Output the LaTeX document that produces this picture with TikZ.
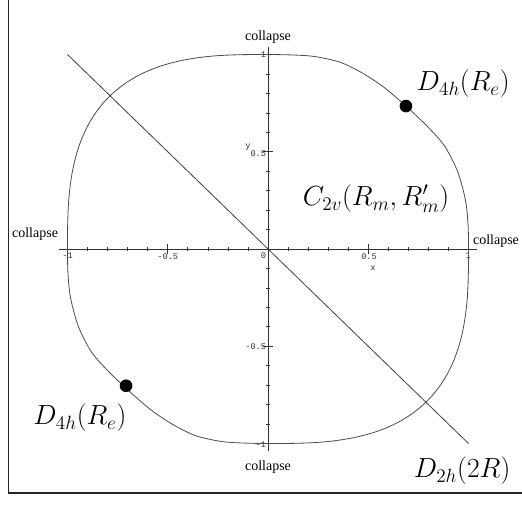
\documentclass[tikz,border=0pt]{standalone}
\usepackage{fontspec}
\setmainfont{Liberation Serif}
\setmonofont{Liberation Mono}

\tikzset{
  clps/.style={font=\fontsize{10.5}{12}\selectfont, inner sep=0pt},
  sym/.style={font=\fontsize{20}{24}\selectfont, inner sep=0pt},
  ticklbl/.style={font=\ttfamily\fontsize{6.5}{7}\selectfont, text=black!80, inner sep=0pt},
  dot/.style={circle, fill=black, inner sep=0pt, minimum size=9.5pt},
  curve/.style={black!70, line width=0.6pt},
  axis/.style={black!80, line width=0.7pt},
}

\begin{document}
\begin{tikzpicture}[x=5.285cm, y=5.127cm]
  \useasboundingbox (-1.3367,-1.3162) rectangle (1.2668,1.2802);
  % frame (left and bottom edges only)
  \draw[line width=1.2pt, black!85] (-1.294,1.2802) -- (-1.294,-1.2545) -- (1.2668,-1.2545);

  % axes and ticks
  \draw[axis] (-1.04,0) -- (1.04,0);
  \draw[axis] (0,-1.04) -- (0,1.04);
  \foreach \i in {-10,...,10} {
    \pgfmathsetmacro\tk{ifthenelse(mod(abs(\i),5)==0,0.025,0.01)}
    \draw[axis, line width=0.5pt] (\i/10,-\tk) -- (\i/10,\tk);
    \draw[axis, line width=0.5pt] (-\tk,\i/10) -- (\tk,\i/10);
  }
  \node[ticklbl] (xm1) at (-1,-0.036) {-1};
  \node[ticklbl] (xmh) at (-0.5,-0.04) {-0.5};
  \node[ticklbl] (x0) at (-0.023,-0.032) {0};
  \node[ticklbl] (xph) at (0.504,-0.04) {0.5};
  \node[ticklbl] (xp1) at (0.998,-0.036) {1};
  \node[ticklbl] (xname) at (0.524,-0.098) {x};
  \node[ticklbl, anchor=east] (yp1) at (-0.008,0.997) {1};
  \node[ticklbl, anchor=east] (yph) at (-0.008,0.488) {0.5};
  \node[ticklbl, anchor=east] (ymh) at (-0.008,-0.504) {-0.5};
  \node[ticklbl, anchor=east] (ym1) at (-0.008,-1.008) {-1};
  \node[ticklbl] (yname) at (-0.1,0.524) {y};

  % the closed curve, point symmetric
  \foreach \s in {1,-1} {
    \draw[curve, scale=\s] plot[smooth] coordinates {(1,0) (0.998,0.12) (0.985,0.25) (0.945,0.40) (0.88,0.53) (0.795,0.63) (0.688,0.735) (0.58,0.83) (0.47,0.905) (0.36,0.96) (0.23,0.99) (0.11,0.998) (0,1)};
    \draw[curve, scale=\s] plot[domain=0:90, samples=61]
      ({-pow(max(cos(\x),0.0001),0.6897)}, {pow(max(sin(\x),0.0001),0.6897)});
  }

  % diagonal
  \coordinate (dA) at (-1,1);
  \coordinate (dB) at (1,-1);
  \draw[black!75, line width=0.6pt] (dA) -- (dB);

  \node[dot] (reA) at (0.688,0.735) {};
  \node[dot] (reB) at (-0.708,-0.703) {};

  \node[clps] (cTop) at (0,1.09) {collapse};
  \node[clps] (cLeft) at (-1.162,0.077) {collapse};
  \node[clps] (cRight) at (1.137,0.041) {collapse};
  \node[clps] (cBot) at (0,-1.121) {collapse};

  \node[sym] (dfA) at (0.973,0.848) {$D_{4h}(R_e)$};
  \node[sym] (cm) at (0.539,0.257) {$C_{2v}(R_m,R'_m)$};
  \node[sym] (dfB) at (-0.938,-0.869) {$D_{4h}(R_e)$};
  \node[sym] (dt) at (0.968,-1.141) {$D_{2h}(2R)$};
\end{tikzpicture}
\end{document}
